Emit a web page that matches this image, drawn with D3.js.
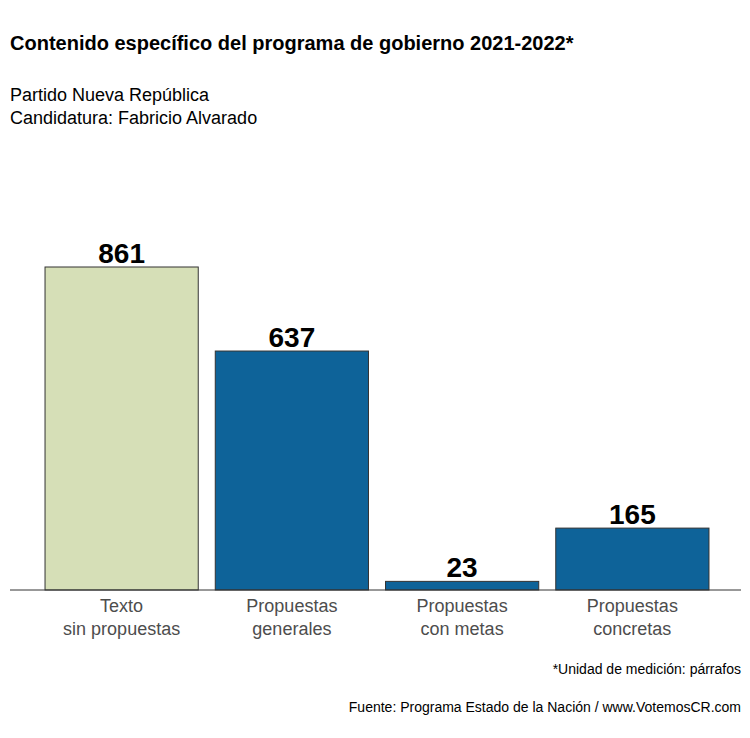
<!DOCTYPE html>
<html><head><meta charset="utf-8">
<script src="https://cdn.jsdelivr.net/npm/d3@7"></script>
<style>body{margin:0;background:#fff}text{font-family:"Liberation Sans",Arial,sans-serif}</style>
</head><body>
<svg id="chart" width="750" height="738"></svg>
<script>
var categories = ["Texto\nsin propuestas", "Propuestas\ngenerales", "Propuestas\ncon metas", "Propuestas\nconcretas"];
var values = [861, 637, 23, 165];
var colors = ["#d6dfb7", "#0e6399", "#0e6399", "#0e6399"];

var svg = d3.select("#chart");
var x = d3.scaleBand().domain(categories).range([28, 726]).padding(0.1);
var y = d3.scaleLinear().domain([0, 861]).range([590, 267]);

svg.append("text").attr("x", 10).attr("y", 50).attr("font-size", 20).attr("font-weight", "bold")
  .text("Contenido específico del programa de gobierno 2021-2022*");
svg.append("text").attr("x", 10).attr("y", 101).attr("font-size", 18).text("Partido Nueva República");
svg.append("text").attr("x", 10).attr("y", 124).attr("font-size", 18).text("Candidatura: Fabricio Alvarado");

svg.selectAll("rect.bar").data(values).enter().append("rect")
  .attr("x", function (d, i) { return x(categories[i]); })
  .attr("y", function (d) { return y(d); })
  .attr("width", x.bandwidth())
  .attr("height", function (d) { return y(0) - y(d); })
  .attr("fill", function (d, i) { return colors[i]; })
  .attr("stroke", "#333").attr("stroke-width", 1);

svg.selectAll("text.val").data(values).enter().append("text")
  .attr("x", function (d, i) { return x(categories[i]) + x.bandwidth() / 2; })
  .attr("y", function (d) { return y(d) - 4; })
  .attr("text-anchor", "middle").attr("font-size", 28).attr("font-weight", "bold")
  .text(function (d) { return d; });

svg.append("line").attr("x1", 10).attr("x2", 741).attr("y1", 590).attr("y2", 590).attr("stroke", "#333");

categories.forEach(function (c) {
  var t = svg.append("text").attr("text-anchor", "middle").attr("font-size", 18).attr("fill", "#4d4d4d");
  c.split("\n").forEach(function (line, j) {
    t.append("tspan").attr("x", x(c) + x.bandwidth() / 2).attr("y", 612 + j * 23).text(line);
  });
});

svg.append("text").attr("x", 741).attr("y", 674).attr("text-anchor", "end").attr("font-size", 14).text("*Unidad de medición: párrafos");
svg.append("text").attr("x", 741).attr("y", 712).attr("text-anchor", "end").attr("font-size", 14).text("Fuente: Programa Estado de la Nación / www.VotemosCR.com");
</script>
</body></html>
